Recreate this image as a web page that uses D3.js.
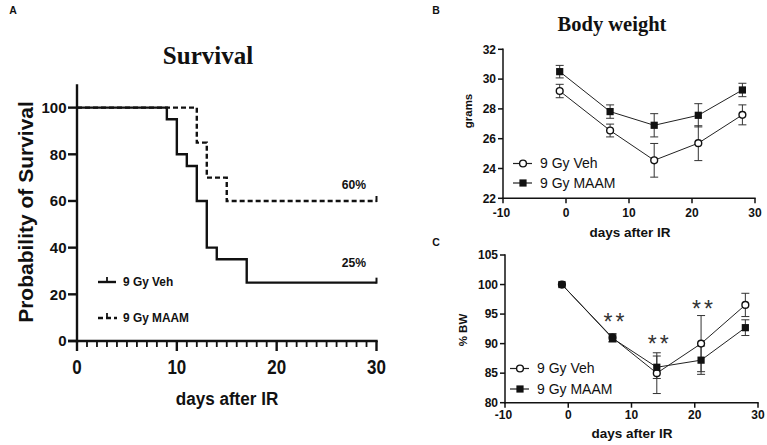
<!DOCTYPE html>
<html><head><meta charset="utf-8">
<script src="https://cdn.jsdelivr.net/npm/d3@7"></script>
<style>body{margin:0;background:#fff}svg{display:block}</style>
</head><body>
<script>
// ---- Data ----
// Panel A: Kaplan-Meier survival
const vehDays = [0, 9, 10, 11, 12, 13, 14, 17, 30];
const vehSurv = [100, 95, 80, 75, 60, 40, 35, 25, 25];
const maamDays = [0, 12, 13, 15, 30];
const maamSurv = [100, 85, 70, 60, 60];
const survTicksY = [0, 20, 40, 60, 80, 100];
const survTicksX = [0, 10, 20, 30];
const survLabels = ["60%", "25%"];
// Panels B & C
const bwDays = [-1, 7, 14, 21, 28];
const bwVeh = [29.2, 26.55, 24.55, 25.7, 27.6];
const bwVehErr = [0.45, 0.43, 1.13, 1.17, 0.67];
const bwMaam = [30.5, 27.82, 26.9, 27.57, 29.27];
const bwMaamErr = [0.42, 0.45, 0.78, 0.78, 0.45];
const bwTicksY = [22, 24, 26, 28, 30, 32];
const pctVeh = [100, 91.0, 85.0, 90.0, 96.55];
const pctVehErr = [0, 0.7, 3.45, 4.75, 1.97];
const pctMaam = [100, 90.9, 86.0, 87.2, 92.7];
const pctMaamErr = [0, 0.6, 1.9, 2.4, 1.33];
const pctTicksY = [80, 85, 90, 95, 100, 105];
const daysTicks = [-10, 0, 10, 20, 30];
const starDays = [7, 14, 21];
const starPct = [94.4, 90.6, 96.6];
const seriesNames = ["9 Gy Veh", "9 Gy MAAM"];

const W = 767, H = 445;
const SANS = "'Liberation Sans', Arial, Helvetica, sans-serif";
const SERIF = "'Liberation Serif', 'Times New Roman', Times, serif";
const svg = d3.select("body").append("svg").attr("width", W).attr("height", H);

function txt(g, x, y, s, o) {
  o = o || {};
  const t = g.append("text")
    .attr("transform", `translate(${x},${y})` + (o.rot ? ` rotate(${o.rot})` : "") + (o.sx ? ` scale(${o.sx},1)` : ""))
    .attr("text-anchor", o.anchor || "middle")
    .attr("dy", o.dy !== undefined ? o.dy : "0.35em")
    .attr("font-family", o.family || SANS)
    .attr("font-size", o.size || 12)
    .attr("font-weight", o.weight || "bold")
    .attr("fill", o.fill || "#111")
    .text(s);
  return t;
}

// Panel letters
txt(svg, 13, 10, "A", {size: 10.5});
txt(svg, 436, 10, "B", {size: 10.5});
txt(svg, 436, 242, "C", {size: 10.5});

// ================= Panel A =================
const gA = svg.append("g");
const xA = d3.scaleLinear().domain([0, 30]).range([77, 376.5]);
const yA = d3.scaleLinear().domain([0, 110]).range([341, 84.3]);

txt(gA, 208, 55, "Survival", {family: SERIF, size: 25});

gA.append("line").attr("x1", xA(0)).attr("x2", xA(0)).attr("y1", yA(110)).attr("y2", yA(0) + 1.2)
  .attr("stroke", "#111").attr("stroke-width", 2.4);
gA.append("line").attr("x1", xA(0) - 9).attr("x2", xA(30) + 1.2).attr("y1", yA(0)).attr("y2", yA(0))
  .attr("stroke", "#111").attr("stroke-width", 2.4);
survTicksY.forEach(v => {
  gA.append("line").attr("x1", xA(0) - 9).attr("x2", xA(0)).attr("y1", yA(v)).attr("y2", yA(v))
    .attr("stroke", "#111").attr("stroke-width", 2.4);
  txt(gA, 66.5, yA(v), String(v), {anchor: "end", size: 15});
});
d3.range(0, 31).forEach(d => {
  const major = d % 10 === 0;
  gA.append("line").attr("x1", xA(d)).attr("x2", xA(d)).attr("y1", yA(0)).attr("y2", yA(0) + (major ? 10 : 6))
    .attr("stroke", "#111").attr("stroke-width", major ? 2.4 : 1.8);
});
survTicksX.forEach(v => txt(gA, xA(v), 367, String(v), {size: 19.5, sx: 0.87}));
txt(gA, 227, 398, "days after IR", {size: 19, sx: 0.9});
txt(gA, 26, 212, "Probability of Survival", {size: 21, rot: -90});

const stepLine = d3.line().curve(d3.curveStepAfter).x(d => xA(d[0])).y(d => yA(d[1]));
gA.append("path").datum(maamDays.map((d, i) => [d, maamSurv[i]]))
  .attr("d", stepLine).attr("fill", "none").attr("stroke", "#111").attr("stroke-width", 2.4)
  .attr("stroke-dasharray", "5,3");
gA.append("path").datum(vehDays.map((d, i) => [d, vehSurv[i]]))
  .attr("d", stepLine).attr("fill", "none").attr("stroke", "#111").attr("stroke-width", 2.4);
[[30, vehSurv[vehSurv.length - 1]], [30, maamSurv[maamSurv.length - 1]]].forEach(p => {
  gA.append("line").attr("x1", xA(p[0])).attr("x2", xA(p[0])).attr("y1", yA(p[1]) + 1).attr("y2", yA(p[1]) - 5)
    .attr("stroke", "#111").attr("stroke-width", 2);
});
txt(gA, 354, 184, survLabels[0], {size: 13.5, sx: 0.9});
txt(gA, 354, 262, survLabels[1], {size: 13.5, sx: 0.9});

// legend A
gA.append("line").attr("x1", 98).attr("x2", 116).attr("y1", 282).attr("y2", 282).attr("stroke", "#111").attr("stroke-width", 2.4);
gA.append("line").attr("x1", 107).attr("x2", 107).attr("y1", 282).attr("y2", 277).attr("stroke", "#111").attr("stroke-width", 1.8);
txt(gA, 123, 281.5, seriesNames[0], {anchor: "start", size: 13.5, sx: 0.88});
gA.append("line").attr("x1", 98).attr("x2", 117).attr("y1", 318).attr("y2", 318).attr("stroke", "#111").attr("stroke-width", 2.4)
  .attr("stroke-dasharray", "5,3");
gA.append("line").attr("x1", 107).attr("x2", 107).attr("y1", 318).attr("y2", 313).attr("stroke", "#111").attr("stroke-width", 1.8);
txt(gA, 123, 317.5, seriesNames[1], {anchor: "start", size: 13.5, sx: 0.88});

// ================= Panels B & C =================
function linePanel(opt) {
  const g = svg.append("g");
  const x = d3.scaleLinear().domain([-10, 30]).range(opt.xr);
  const y = d3.scaleLinear().domain(opt.yd).range(opt.yr);
  g.append("line").attr("x1", x(-10)).attr("x2", x(-10)).attr("y1", y(opt.yd[1]) - 0.7).attr("y2", y(opt.yd[0]) + 0.7)
    .attr("stroke", "#111").attr("stroke-width", 1.5);
  g.append("line").attr("x1", x(-10) - 0.7).attr("x2", x(30) + 0.7).attr("y1", y(opt.yd[0])).attr("y2", y(opt.yd[0]))
    .attr("stroke", "#111").attr("stroke-width", 1.5);
  opt.ticksY.forEach(v => {
    g.append("line").attr("x1", x(-10) - 5).attr("x2", x(-10)).attr("y1", y(v)).attr("y2", y(v))
      .attr("stroke", "#111").attr("stroke-width", 1.5);
    txt(g, x(-10) - 7, y(v), String(v), {anchor: "end", size: 12});
  });
  daysTicks.forEach(v => {
    g.append("line").attr("x1", x(v)).attr("x2", x(v)).attr("y1", y(opt.yd[0])).attr("y2", y(opt.yd[0]) + 5)
      .attr("stroke", "#111").attr("stroke-width", 1.5);
    txt(g, x(v) - (v < 0 ? 1.5 : 0), opt.tickLabelY, String(v), {size: 12});
  });
  txt(g, opt.xLabel[0], opt.xLabel[1], "days after IR", {size: 13.5});
  txt(g, opt.yLabel[0], opt.yLabel[1], opt.yText, {size: 11.5, rot: -90});
  if (opt.title) txt(g, opt.title[0], opt.title[1], opt.title[2], {family: SERIF, size: 20.5, dy: 0});

  const ln = d3.line().x((d, i) => x(bwDays[i])).y(d => y(d));
  const series = [
    {v: opt.veh, e: opt.vehErr, shape: "circle"},
    {v: opt.maam, e: opt.maamErr, shape: "square"}
  ];
  series.forEach(s => {
    g.append("path").datum(s.v).attr("d", ln).attr("fill", "none").attr("stroke", "#222").attr("stroke-width", 1);
  });
  series.forEach(s => {
    s.v.forEach((v, i) => {
      if (!s.e[i]) return;
      const cx = x(bwDays[i]);
      g.append("line").attr("x1", cx).attr("x2", cx).attr("y1", y(v - s.e[i])).attr("y2", y(v + s.e[i]))
        .attr("stroke", "#333").attr("stroke-width", 1);
      [v - s.e[i], v + s.e[i]].forEach(w => {
        g.append("line").attr("x1", cx - 4).attr("x2", cx + 4).attr("y1", y(w)).attr("y2", y(w))
          .attr("stroke", "#333").attr("stroke-width", 1);
      });
    });
  });
  function marker(shape, cx, cy) {
    if (shape === "square") {
      g.append("rect").attr("x", cx - 3.6).attr("y", cy - 3.6).attr("width", 7.2).attr("height", 7.2).attr("fill", "#111");
    } else {
      g.append("circle").attr("cx", cx).attr("cy", cy).attr("r", 3.4).attr("fill", "#fff")
        .attr("stroke", "#111").attr("stroke-width", 1.4);
    }
  }
  series.forEach(s => s.v.forEach((v, i) => marker(s.shape, x(bwDays[i]), y(v))));
  const lg = [["circle", opt.legY[0], seriesNames[0]], ["square", opt.legY[1], seriesNames[1]]];
  lg.forEach(l => {
    g.append("line").attr("x1", opt.legX - 10).attr("x2", opt.legX + 9).attr("y1", l[1]).attr("y2", l[1])
      .attr("stroke", "#222").attr("stroke-width", 1.2);
    marker(l[0], opt.legX, l[1]);
    txt(g, opt.legX + 17, l[1], l[2], {anchor: "start", size: 14, weight: "normal"});
  });
  return {g, x, y};
}

linePanel({
  xr: [503, 755], yd: [22, 32], yr: [198.3, 49.3], ticksY: bwTicksY,
  veh: bwVeh, vehErr: bwVehErr, maam: bwMaam, maamErr: bwMaamErr,
  tickLabelY: 212.5, xLabel: [630, 232], yLabel: [468, 111], yText: "grams",
  title: [612, 31, "Body weight"], legX: 523, legY: [163.5, 183]
});

const pC = linePanel({
  xr: [505, 758], yd: [80, 105], yr: [402.7, 255], ticksY: pctTicksY,
  veh: pctVeh, vehErr: pctVehErr, maam: pctMaam, maamErr: pctMaamErr,
  tickLabelY: 414.5, xLabel: [632, 433.5], yLabel: [463, 330], yText: "% BW",
  legX: 520, legY: [368.5, 389]
});
starDays.forEach((d, i) => {
  txt(pC.g, pC.x(d) + 3, pC.y(starPct[i]) + 12, "**", {size: 23, weight: "normal", fill: "#333", dy: 0})
    .attr("letter-spacing", 3);
});
</script>
</body></html>
